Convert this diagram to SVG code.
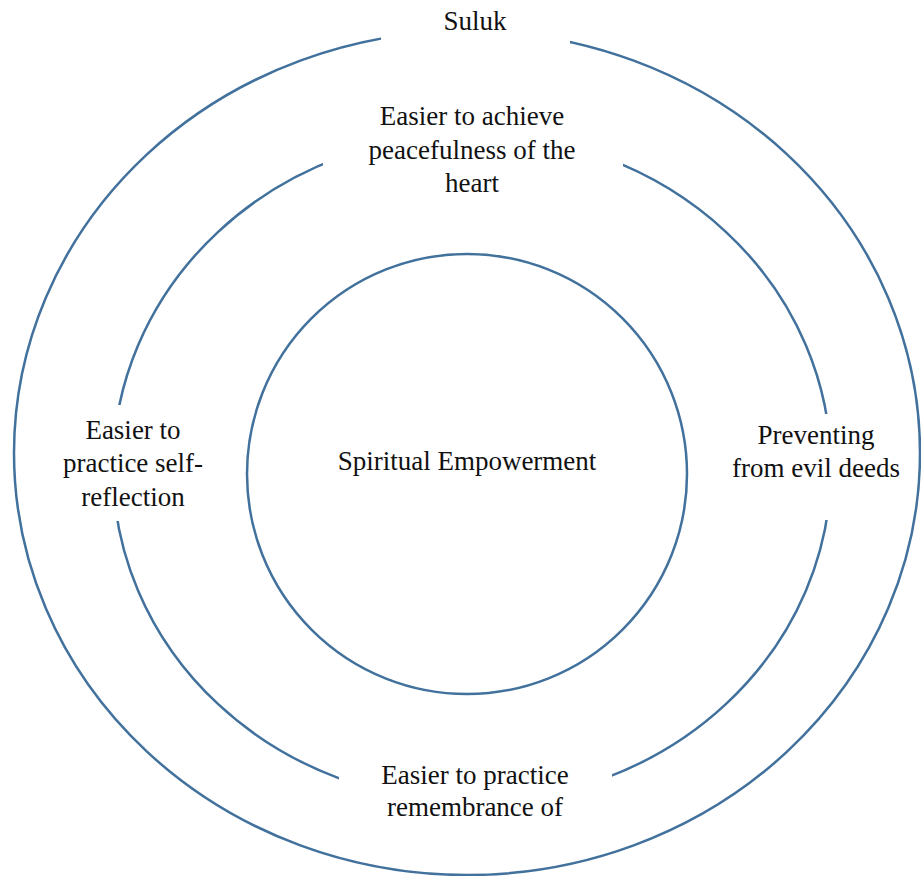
<svg xmlns="http://www.w3.org/2000/svg" width="921" height="876" viewBox="0 0 921 876">
  <style>
    .ring { fill: none; stroke: #41719C; stroke-width: 2.5; }
    .mask { fill: #ffffff; stroke: none; }
    .lbl { font-size: 27px; fill: #111111; text-anchor: middle; }
  </style>
  <rect width="921" height="876" fill="#ffffff"/>

  <!-- rings -->
  <g id="rings">
    <ellipse id="outer-ring" class="ring" cx="467" cy="453" rx="453" ry="422"/>
    <ellipse id="middle-ring" class="ring" cx="472" cy="468" rx="359" ry="334"/>
    <circle id="core-ring" class="ring" cx="467" cy="474" r="220"/>
  </g>

  <!-- labels sitting on the rings, each with a white backing that opens the ring -->
  <g font-family="Liberation Serif, DejaVu Serif, serif">
    <g id="suluk">
      <rect class="mask" x="381" y="0" width="189" height="48"/>
      <text class="lbl" x="475" y="30">Suluk</text>
    </g>

    <g id="peacefulness">
      <rect class="mask" x="323" y="98" width="300" height="104"/>
      <text class="lbl" x="472" y="125">Easier to achieve</text>
      <text class="lbl" x="472" y="159">peacefulness of the</text>
      <text class="lbl" x="472" y="192">heart</text>
    </g>

    <g id="self-reflection">
      <rect class="mask" x="60" y="405" width="150" height="116"/>
      <text class="lbl" x="133" y="439">Easier to</text>
      <text class="lbl" x="133" y="472">practice self-</text>
      <text class="lbl" x="133" y="506">reflection</text>
    </g>

    <g id="evil-deeds">
      <rect class="mask" x="725" y="414" width="180" height="106"/>
      <text class="lbl" x="816" y="444">Preventing</text>
      <text class="lbl" x="816" y="477">from evil deeds</text>
    </g>

    <g id="remembrance">
      <rect class="mask" x="339" y="742" width="273" height="80"/>
      <text class="lbl" x="475" y="784">Easier to practice</text>
      <text class="lbl" x="475" y="816">remembrance of</text>
    </g>

    <g id="spiritual-empowerment">
      <text class="lbl" x="467" y="470">Spiritual Empowerment</text>
    </g>
  </g>
</svg>
